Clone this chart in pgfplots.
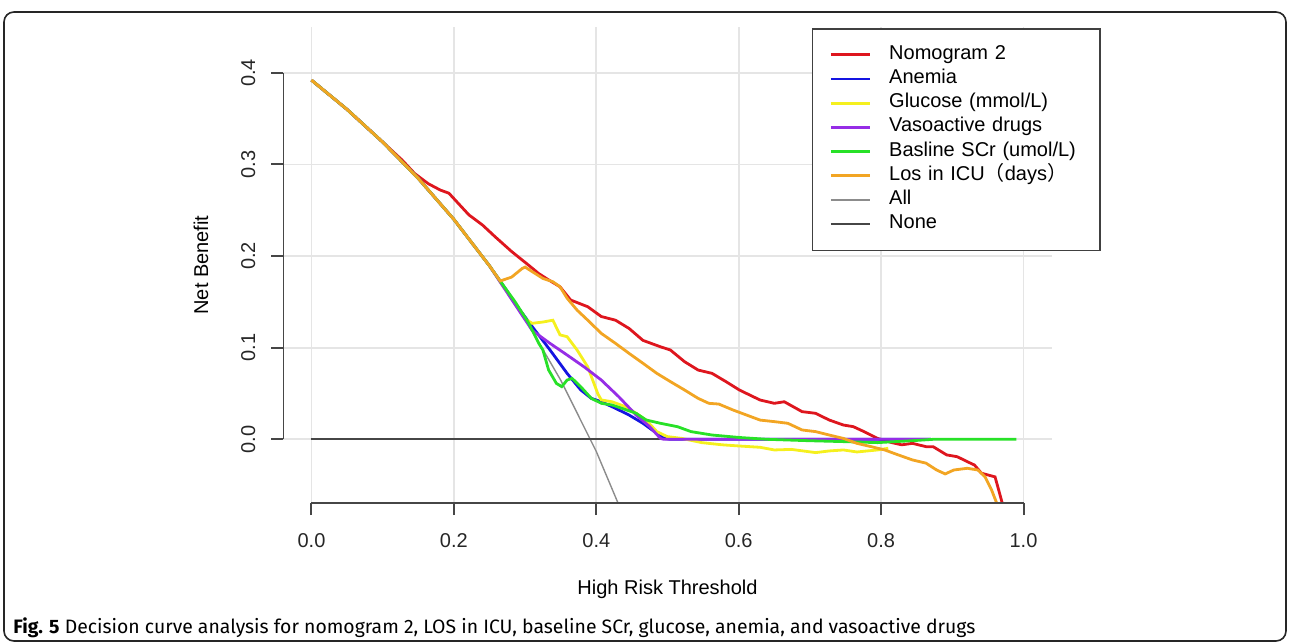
\documentclass[border=0pt]{standalone}
\usepackage{fontspec}
\setmainfont{Liberation Sans}
\newfontfamily\capfont{Fira Sans}
\newfontfamily\cjk{Noto Sans CJK SC}
\usepackage{pgfplots}
\pgfplotsset{compat=1.18}

\definecolor{cRed}{RGB}{222,22,30}
\definecolor{cBlue}{RGB}{20,20,225}
\definecolor{cYellow}{RGB}{245,240,30}
\definecolor{cPurple}{RGB}{150,45,230}
\definecolor{cGreen}{RGB}{40,225,40}
\definecolor{cOrange}{RGB}{242,165,35}
\definecolor{cAxis}{RGB}{70,70,70}

\begin{document}
\begin{tikzpicture}
% page: 1290 x 643 px at 0.5pt per px
\useasboundingbox (0,0) rectangle (645pt,321.5pt);
\draw[black!85, line width=0.8pt, rounded corners=5pt] (2pt,1pt) rectangle (643pt,315.5pt);

\begin{axis}[
    at={(141.5pt,70pt)}, anchor=south west,
    scale only axis, width=384.5pt, height=238pt,
    xmin=-0.04, xmax=1.04, ymin=-0.0695, ymax=0.450,
    xtick={0,0.2,0.4,0.6,0.8,1.0},
    ytick={0,0.1,0.2,0.3,0.4},
    axis x line*=bottom, axis y line*=left,
    axis line style={draw=none},
    grid=major, grid style={black!10, line width=0.9pt},
    tick align=outside, major tick length=6pt,
    tick style={cAxis, line width=1pt},
    /pgf/number format/assume math mode=true,
    /pgf/number format/.cd, fixed, fixed zerofill, precision=1, /pgfplots/.cd,
    ticklabel style={font=\fontsize{10}{12}\selectfont, text=black!85},
    xticklabel style={anchor=base},
    xticklabel shift=16pt,
    yticklabel style={rotate=90, anchor=base},
    yticklabel shift=8pt,
    xlabel={High Risk Threshold},
    xlabel style={at={(axis description cs:0.5,-0.1912)}, anchor=base, font=\fontsize{10}{12}\selectfont},
    ylabel={Net Benefit},
    ylabel style={at={(axis description cs:-0.0975,0.5)}, anchor=base, rotate=0, font=\fontsize{10}{12}\selectfont},
    legend cell align=left,
    legend style={at={(1.0637,0.998)}, anchor=north east,
        draw=black!75, line width=0.8pt,
        font=\fontsize{10}{12}\selectfont,
        inner xsep=8.5pt, inner ysep=7pt,
        row sep=0pt, column sep=9pt,
        nodes={inner xsep=0pt, inner ysep=0pt, text height=8.3pt, text depth=3.8pt, text width=97pt}},
    legend image code/.code={\draw[#1] (0pt,0pt) -- (19.5pt,0pt);},
    every axis plot/.append style={line width=1.4pt},
]
% All and None drawn first, as in the figure
\addplot[black!45, line width=0.7pt, forget plot] coordinates {
(0,0.392)(0.05,0.360)(0.10,0.3244)(0.15,0.2847)(0.20,0.240)(0.25,0.1893)
(0.30,0.1314)(0.35,0.0646)(0.40,-0.0133)(0.45,-0.1055)};
\addplot[cAxis, line width=0.9pt, forget plot] coordinates {(0,0)(0.99,0)};

\addplot[cRed] coordinates {
(0,0.392)(0.05,0.360)(0.10,0.3244)(0.12,0.310)(0.127,0.305)(0.145,0.290)
(0.164,0.279)(0.181,0.272)(0.193,0.2686)(0.202,0.261)(0.221,0.245)(0.240,0.234)
(0.258,0.221)(0.281,0.205)(0.305,0.190)(0.319,0.181)(0.333,0.174)(0.349,0.1665)
(0.364,0.152)(0.388,0.1447)(0.407,0.134)(0.427,0.130)(0.446,0.121)(0.4655,0.108)
(0.490,0.101)(0.504,0.0975)(0.524,0.0847)(0.543,0.0756)(0.5625,0.072)(0.582,0.063)
(0.601,0.0538)(0.630,0.0429)(0.650,0.0393)(0.664,0.041)(0.689,0.0302)(0.708,0.0284)
(0.727,0.0211)(0.747,0.0156)(0.761,0.0138)(0.776,0.0084)(0.795,0.001)(0.815,-0.0036)
(0.829,-0.006)(0.844,-0.0044)(0.863,-0.008)(0.873,-0.008)(0.892,-0.017)(0.907,-0.019)
(0.921,-0.0244)(0.931,-0.028)(0.941,-0.037)(0.960,-0.041)(0.965,-0.055)(0.972,-0.075)};
\addlegendentry{Nomogram 2}

\addplot[cBlue] coordinates {
(0,0.392)(0.05,0.360)(0.10,0.3244)(0.15,0.2847)(0.20,0.240)(0.25,0.1893)
(0.265,0.1728)(0.29,0.144)(0.310,0.123)(0.335,0.0975)(0.359,0.072)(0.378,0.054)
(0.393,0.0447)(0.407,0.041)(0.427,0.0338)(0.446,0.0265)(0.4655,0.0175)(0.485,0.0065)
(0.495,0.001)(0.504,0)(0.87,0)};
\addlegendentry{Anemia}

\addplot[cYellow] coordinates {
(0,0.392)(0.05,0.360)(0.10,0.3244)(0.15,0.2847)(0.20,0.240)(0.25,0.1893)
(0.300,0.1314)(0.310,0.1266)(0.325,0.128)(0.339,0.130)(0.349,0.114)(0.359,0.112)
(0.373,0.0975)(0.388,0.079)(0.402,0.050)(0.407,0.043)(0.422,0.041)(0.441,0.0356)
(0.456,0.0284)(0.470,0.021)(0.485,0.0084)(0.4995,0.003)(0.52,0.001)(0.548,-0.0036)
(0.577,-0.006)(0.601,-0.0073)(0.630,-0.0087)(0.650,-0.0116)(0.674,-0.011)(0.708,-0.0145)
(0.727,-0.0127)(0.747,-0.0116)(0.766,-0.0138)(0.795,-0.0116)(0.810,-0.0098)};
\addlegendentry{Glucose (mmol/L)}

\addplot[cPurple] coordinates {
(0,0.392)(0.05,0.360)(0.10,0.3244)(0.15,0.2847)(0.20,0.240)(0.25,0.1893)
(0.310,0.1188)(0.335,0.1047)(0.359,0.092)(0.383,0.079)(0.407,0.0647)(0.4315,0.0465)
(0.456,0.0265)(0.475,0.0138)(0.490,0.001)(0.495,0)(0.87,0)};
\addlegendentry{Vasoactive drugs}

\addplot[cGreen] coordinates {
(0,0.392)(0.05,0.360)(0.10,0.3244)(0.15,0.2847)(0.20,0.240)(0.25,0.1893)
(0.265,0.1728)(0.286,0.150)(0.305,0.127)(0.319,0.105)(0.325,0.0975)(0.333,0.0757)
(0.344,0.061)(0.3515,0.0575)(0.359,0.0647)(0.366,0.0665)(0.378,0.0575)(0.393,0.0447)
(0.407,0.0393)(0.422,0.0375)(0.436,0.0338)(0.456,0.0284)(0.470,0.0211)(0.490,0.0175)
(0.514,0.0138)(0.533,0.0084)(0.5625,0.0047)(0.601,0.002)(0.640,0)(0.698,-0.0015)
(0.747,-0.0025)(0.795,-0.0036)(0.820,-0.0025)(0.844,-0.0015)(0.873,0)(0.99,0)};
\addlegendentry{Basline SCr (umol/L)}

\addplot[cOrange] coordinates {
(0,0.392)(0.05,0.360)(0.10,0.3244)(0.15,0.2847)(0.20,0.240)(0.25,0.1893)
(0.265,0.1728)(0.281,0.177)(0.296,0.1865)(0.300,0.188)(0.310,0.183)(0.325,0.1756)
(0.339,0.172)(0.349,0.1665)(0.359,0.154)(0.373,0.141)(0.388,0.130)(0.407,0.1156)
(0.427,0.1047)(0.446,0.0938)(0.4655,0.083)(0.485,0.072)(0.504,0.063)(0.524,0.0538)
(0.543,0.0447)(0.558,0.0393)(0.572,0.0385)(0.592,0.032)(0.611,0.0265)(0.630,0.021)
(0.650,0.0193)(0.669,0.0175)(0.689,0.0102)(0.708,0.0084)(0.727,0.0047)(0.747,0.001)
(0.766,-0.0044)(0.786,-0.008)(0.805,-0.0116)(0.824,-0.017)(0.844,-0.0225)(0.863,-0.026)
(0.878,-0.0335)(0.890,-0.0378)(0.902,-0.0335)(0.921,-0.0316)(0.936,-0.0335)(0.946,-0.041)
(0.955,-0.055)(0.965,-0.075)};
\addlegendentry{Los in ICU{\cjk （}days{\cjk ）}}

\addlegendimage{black!45, line width=0.7pt}
\addlegendentry{All}
\addlegendimage{cAxis, line width=0.9pt}
\addlegendentry{None}

% R-style axis lines, from first to last tick only
\draw[cAxis, line width=1pt] ({axis cs:0,0} |- {rel axis cs:0,0}) -- ({axis cs:1,0} |- {rel axis cs:0,0});
\draw[cAxis, line width=1pt] ({rel axis cs:0,0} |- {axis cs:0,0}) -- ({rel axis cs:0,0} |- {axis cs:0,0.4});
\end{axis}

\node[anchor=base west, inner sep=0pt, font=\capfont\fontsize{9.7}{11}\selectfont] at (6.5pt,5pt)
  {\textbf{Fig. 5} Decision curve analysis for nomogram 2, LOS in ICU, baseline SCr, glucose, anemia, and vasoactive drugs};
\end{tikzpicture}
\end{document}
